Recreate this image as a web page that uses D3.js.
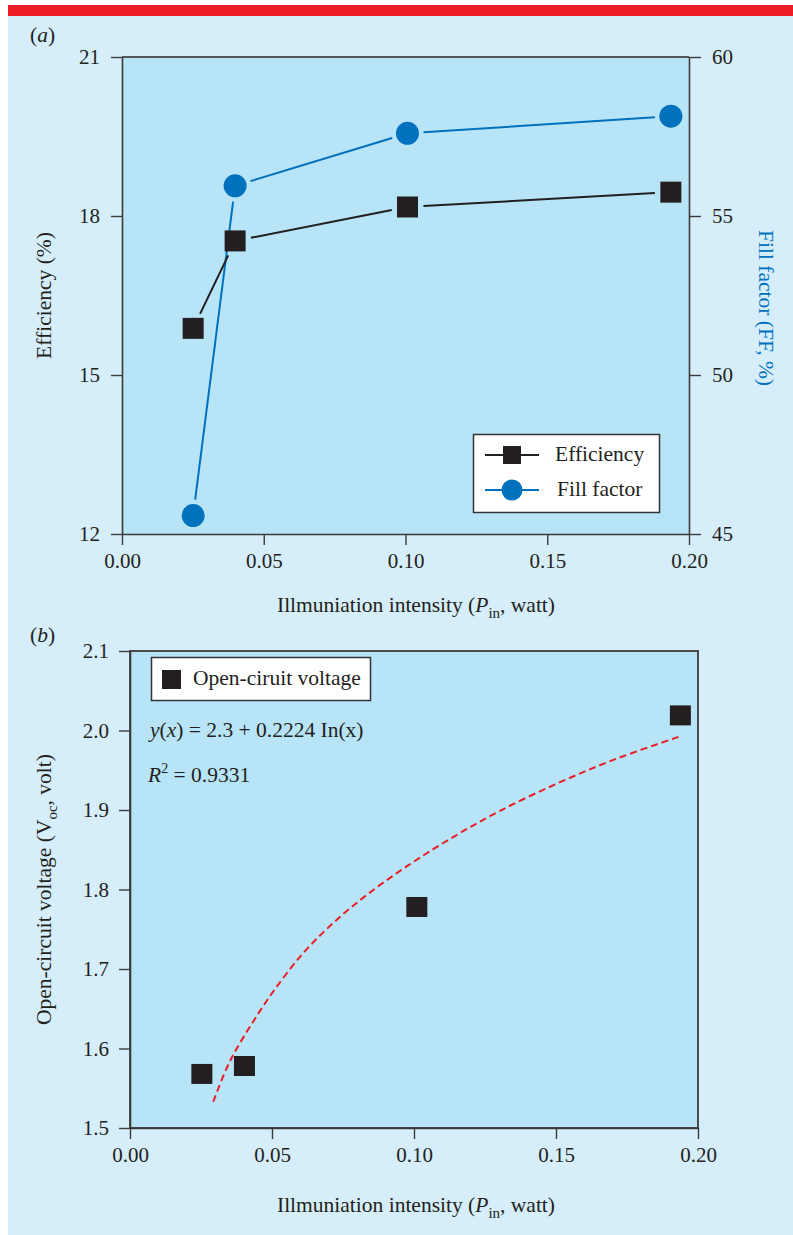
<!DOCTYPE html>
<html>
<head>
    <title>Efficiency, fill factor and open-circuit voltage</title>
    <script src="https://d3js.org/d3.v7.min.js"></script>
    <style>
        body { margin: 0; background: #fff; }
        text { font-family: "Liberation Serif", "Times New Roman", serif; fill: #231f20; }
    </style>
</head>
<body>
    <script type="text/javascript">

        // ---- data ----
        // panel (a)
        var pinA = [0.0251, 0.0399, 0.1007, 0.1936];
        var efficiency = [15.88, 17.53, 18.17, 18.45];
        var fillFactor = [45.58, 55.95, 57.6, 58.14];
        var effTicks = [12, 15, 18, 21];
        var ffTicks = [45, 50, 55, 60];
        var pinTicks = [0, 0.05, 0.10, 0.15, 0.20];

        // panel (b)
        var pinB = [0.0253, 0.0403, 0.1010, 0.1938];
        var voc = [1.568, 1.578, 1.778, 2.019];
        // dashed log fit
        var fitX = [0.0293, 0.0340, 0.0376, 0.0434, 0.0505, 0.0610, 0.0716, 0.0833, 0.0974, 0.1138, 0.1303, 0.1502, 0.1702, 0.1940];
        var fitY = [1.533, 1.575, 1.600, 1.634, 1.672, 1.720, 1.758, 1.793, 1.829, 1.866, 1.899, 1.933, 1.963, 1.993];
        var vocTicks = [1.5, 1.6, 1.7, 1.8, 1.9, 2.0, 2.1];

        var black = "#231f20", blue = "#0071bc", red = "#ec1c24";
        var fs = 21.5; // text size

        var svg = d3.select("body")
            .append("svg")
            .attr("width", 793)
            .attr("height", 1235);

        // page background + red band
        svg.append("rect").attr("x", 8).attr("y", 16).attr("width", 785).attr("height", 1219).attr("fill", "#d6edfa");
        svg.append("rect").attr("x", 8).attr("y", 5).attr("width", 785).attr("height", 11).attr("fill", red);

        //style an axis group
        function styleAxis(g) {
            g.selectAll("path.domain").attr("stroke", "#3b3b3b").attr("stroke-width", 1.6);
            g.selectAll(".tick line").attr("stroke", "#3b3b3b").attr("stroke-width", 1.4);
            g.selectAll(".tick text").attr("font-family", "Liberation Serif").attr("font-size", 21).attr("fill", black);
        }

        //draw connecting segments that stop short of the markers
        function gapLine(g, pts, color, gap) {
            for (var i = 0; i < pts.length - 1; i++) {
                var a = pts[i], b = pts[i + 1];
                var dx = b[0] - a[0], dy = b[1] - a[1];
                var len = Math.sqrt(dx * dx + dy * dy);
                var ux = dx / len, uy = dy / len;
                g.append("path")
                    .attr("d", d3.line()([[a[0] + ux * gap, a[1] + uy * gap], [b[0] - ux * gap, b[1] - uy * gap]]))
                    .attr("stroke", color)
                    .attr("stroke-width", 2)
                    .attr("fill", "none");
            }
        }

        // ================= panel (a) =================
        var a = { left: 122, right: 689, top: 57, bottom: 534 };

        var xA = d3.scaleLinear().domain([0, 0.20]).range([a.left, a.right]);
        var yEff = d3.scaleLinear().domain([12, 21]).range([a.bottom, a.top]);
        var yFF = d3.scaleLinear().domain([45, 60]).range([a.bottom, a.top]);

        svg.append("rect")
            .attr("x", a.left).attr("y", a.top)
            .attr("width", a.right - a.left).attr("height", a.bottom - a.top)
            .attr("fill", "#b8e4f8");

        // top frame line
        svg.append("line")
            .attr("x1", a.left).attr("x2", a.right).attr("y1", a.top).attr("y2", a.top)
            .attr("stroke", "#555").attr("stroke-width", 1.8);

        svg.append("g")
            .attr("transform", "translate(0," + a.bottom + ")")
            .call(d3.axisBottom(xA).tickValues(pinTicks).tickFormat(d3.format(".2f")).tickSize(11).tickSizeOuter(0).tickPadding(8))
            .call(styleAxis);

        svg.append("g")
            .attr("transform", "translate(" + a.left + ",0)")
            .call(d3.axisLeft(yEff).tickValues(effTicks).tickSize(11).tickSizeOuter(0).tickPadding(11))
            .call(styleAxis);

        svg.append("g")
            .attr("transform", "translate(" + a.right + ",0)")
            .call(d3.axisRight(yFF).tickValues(ffTicks).tickSize(12).tickSizeOuter(0).tickPadding(11))
            .call(styleAxis);

        var effPts = pinA.map(function (d, i) { return [xA(d), yEff(efficiency[i])]; });
        var ffPts = pinA.map(function (d, i) { return [xA(d), yFF(fillFactor[i])]; });

        var gA = svg.append("g");
        gapLine(gA, ffPts, blue, 16);
        gapLine(gA, effPts, black, 16);

        gA.selectAll("circle.ff")
            .data(ffPts)
            .enter().append("circle")
            .attr("cx", function (d) { return d[0]; })
            .attr("cy", function (d) { return d[1]; })
            .attr("r", 11.5)
            .attr("fill", blue);

        gA.selectAll("rect.eff")
            .data(effPts)
            .enter().append("rect")
            .attr("x", function (d) { return d[0] - 10.5; })
            .attr("y", function (d) { return d[1] - 10.5; })
            .attr("width", 21).attr("height", 21)
            .attr("fill", black);

        // legend (a)
        var legA = svg.append("g");
        legA.append("rect")
            .attr("x", 473.5).attr("y", 434.5).attr("width", 186).attr("height", 78)
            .attr("fill", "#fff").attr("stroke", "#333").attr("stroke-width", 1.5);
        legA.append("line").attr("x1", 485).attr("x2", 539).attr("y1", 455).attr("y2", 455).attr("stroke", black).attr("stroke-width", 2);
        legA.append("rect").attr("x", 503).attr("y", 446).attr("width", 18).attr("height", 18).attr("fill", black);
        legA.append("text").attr("x", 555).attr("y", 461).attr("font-size", fs).text("Efficiency");
        legA.append("line").attr("x1", 485).attr("x2", 539).attr("y1", 490).attr("y2", 490).attr("stroke", blue).attr("stroke-width", 2);
        legA.append("circle").attr("cx", 512).attr("cy", 490).attr("r", 10.5).attr("fill", blue);
        legA.append("text").attr("x", 557).attr("y", 496).attr("font-size", fs).text("Fill factor");

        // labels (a)
        var labA = svg.append("text").attr("x", 30).attr("y", 42).attr("font-size", fs);
        labA.append("tspan").text("(");
        labA.append("tspan").attr("font-style", "italic").text("a");
        labA.append("tspan").text(")");

        svg.append("text")
            .attr("transform", "translate(51," + ((a.top + a.bottom) / 2) + ") rotate(-90)")
            .attr("text-anchor", "middle")
            .attr("font-size", fs)
            .text("Efficiency (%)");

        svg.append("text")
            .attr("transform", "translate(759,308) rotate(90)")
            .attr("text-anchor", "middle")
            .attr("font-size", fs)
            .style("fill", blue)
            .text("Fill factor (FF, %)");

        function pinLabel(cx, y) {
            var t = svg.append("text").attr("x", cx).attr("y", y).attr("text-anchor", "middle").attr("font-size", fs);
            t.append("tspan").text("Illmuniation intensity (");
            t.append("tspan").attr("font-style", "italic").text("P");
            t.append("tspan").attr("font-size", 15).attr("dy", 6).text("in");
            t.append("tspan").attr("dy", -6).text(", watt)");
        }
        pinLabel(416, 612);

        // ================= panel (b) =================
        var b = { left: 130, right: 698, top: 651, bottom: 1128 };

        var xB = d3.scaleLinear().domain([0, 0.20]).range([b.left, b.right]);
        var yV = d3.scaleLinear().domain([1.5, 2.1]).range([b.bottom, b.top]);

        svg.append("rect")
            .attr("x", b.left).attr("y", b.top)
            .attr("width", b.right - b.left).attr("height", b.bottom - b.top)
            .attr("fill", "#b8e4f8")
            .attr("stroke", "#3b3b3b").attr("stroke-width", 1.8);

        svg.append("g")
            .attr("transform", "translate(0," + b.bottom + ")")
            .call(d3.axisBottom(xB).tickValues(pinTicks).tickFormat(d3.format(".2f")).tickSize(11).tickSizeOuter(0).tickPadding(8))
            .call(styleAxis);

        svg.append("g")
            .attr("transform", "translate(" + b.left + ",0)")
            .call(d3.axisLeft(yV).tickValues(vocTicks).tickFormat(d3.format(".1f")).tickSize(11).tickSizeOuter(0).tickPadding(10))
            .call(styleAxis);

        var fitLine = d3.line()
            .x(function (d, i) { return xB(d); })
            .y(function (d, i) { return yV(fitY[i]); })
            .curve(d3.curveCatmullRom.alpha(0.5));

        svg.append("path")
            .attr("d", fitLine(fitX))
            .attr("stroke", red)
            .attr("stroke-width", 2)
            .attr("stroke-dasharray", "7,4")
            .attr("fill", "none");

        svg.append("g").selectAll("rect")
            .data(pinB)
            .enter().append("rect")
            .attr("x", function (d) { return xB(d) - 10.5; })
            .attr("y", function (d, i) { return yV(voc[i]) - 10; })
            .attr("width", 21).attr("height", 20)
            .attr("fill", black);

        // legend (b)
        svg.append("rect")
            .attr("x", 151.5).attr("y", 657.5).attr("width", 219).attr("height", 43)
            .attr("fill", "#fff").attr("stroke", "#333").attr("stroke-width", 1.5);
        svg.append("rect").attr("x", 162).attr("y", 670).attr("width", 19).attr("height", 19).attr("fill", black);
        svg.append("text").attr("x", 193).attr("y", 685).attr("font-size", fs).text("Open-ciruit voltage");

        // fit equation
        var eq = svg.append("text").attr("x", 150).attr("y", 737).attr("font-size", fs);
        eq.append("tspan").attr("font-style", "italic").text("y");
        eq.append("tspan").text("(");
        eq.append("tspan").attr("font-style", "italic").text("x");
        eq.append("tspan").text(") = 2.3 + 0.2224 In(x)");

        var r2 = svg.append("text").attr("x", 148).attr("y", 782).attr("font-size", fs);
        r2.append("tspan").attr("font-style", "italic").text("R");
        r2.append("tspan").attr("font-size", 14).attr("dy", -9).text("2");
        r2.append("tspan").attr("dy", 9).text(" = 0.9331");

        // labels (b)
        var labB = svg.append("text").attr("x", 30).attr("y", 642).attr("font-size", fs);
        labB.append("tspan").text("(");
        labB.append("tspan").attr("font-style", "italic").text("b");
        labB.append("tspan").text(")");

        var yl = svg.append("text")
            .attr("transform", "translate(51," + ((b.top + b.bottom) / 2) + ") rotate(-90)")
            .attr("text-anchor", "middle")
            .attr("font-size", fs);
        yl.append("tspan").text("Open-circuit voltage (V");
        yl.append("tspan").attr("font-size", 15).attr("dy", 6).text("oc");
        yl.append("tspan").attr("dy", -6).text(", volt)");

        pinLabel(416, 1212);

    </script>
</body>
</html>
